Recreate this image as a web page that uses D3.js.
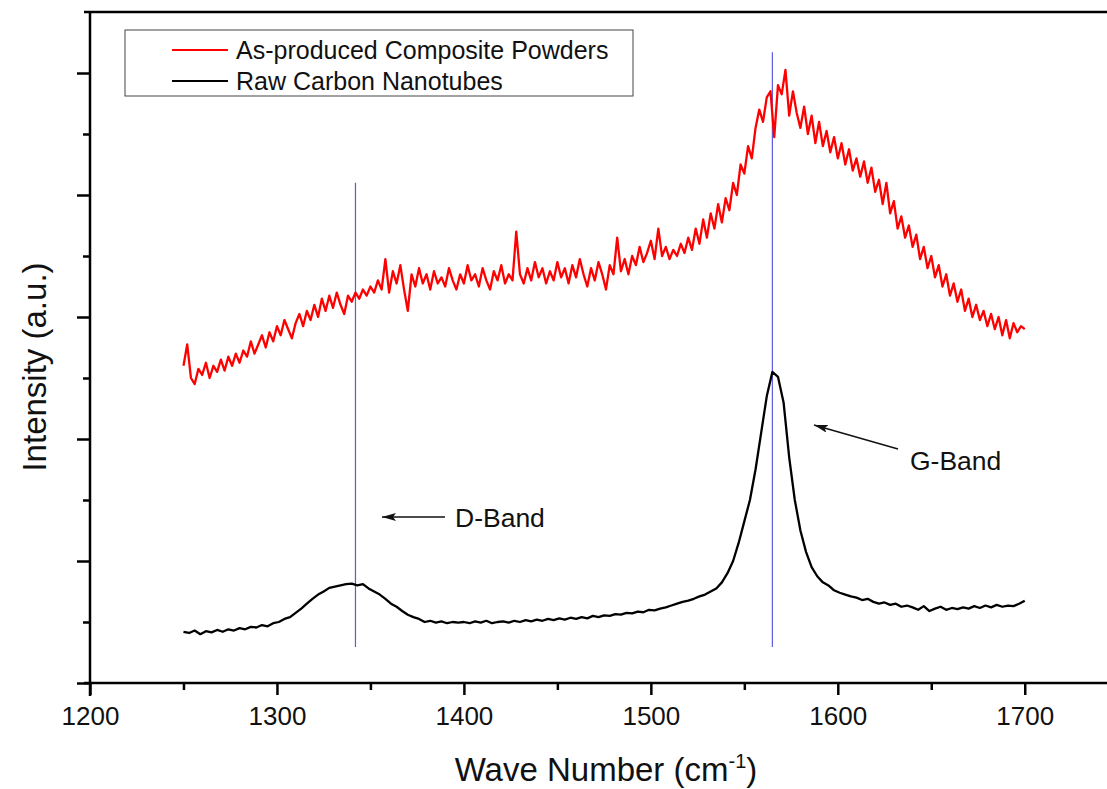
<!DOCTYPE html>
<html>
<head>
<meta charset="utf-8">
<script src="https://d3js.org/d3.v7.min.js"></script>
<style>
  body { margin: 0; background: #fff; }
  text { font-family: "Liberation Sans", Arial, sans-serif; fill: #111; }
</style>
</head>
<body>
<div id="chart"></div>
<script>
// wave number grids (cm-1)
var compositeWaves = d3.range(1250, 1701, 2);
var rawWaves = d3.range(1250, 1701, 3);

// As-produced Composite Powders (a.u.), one reading every 2 cm-1
var compositeValues = [
  5.2, 5.55, 5.0, 4.9, 5.15, 5.05, 5.25, 5.0, 5.2, 5.1,
  5.3, 5.12, 5.35, 5.2, 5.4, 5.25, 5.45, 5.35, 5.6, 5.4,
  5.55, 5.7, 5.5, 5.75, 5.6, 5.85, 5.7, 5.95, 5.8, 5.65,
  5.9, 6.05, 5.85, 6.1, 5.95, 6.2, 6.0, 6.3, 6.1, 6.35,
  6.15, 6.4, 6.2, 6.05, 6.35, 6.25, 6.4, 6.3, 6.45, 6.35,
  6.5, 6.4, 6.6, 6.45, 6.95, 6.4, 6.75, 6.55, 6.85, 6.45,
  6.1, 6.7, 6.5, 6.8, 6.55, 6.7, 6.45, 6.75, 6.55, 6.65,
  6.5, 6.8, 6.6, 6.45, 6.7, 6.55, 6.85, 6.6, 6.7, 6.5,
  6.8, 6.6, 6.45, 6.75, 6.6, 6.85, 6.55, 6.7, 6.6, 7.4,
  6.7, 6.55, 6.8, 6.6, 6.9, 6.65, 6.8, 6.55, 6.75, 6.6,
  6.9, 6.65, 6.8, 6.55, 6.85, 6.65, 6.95, 6.7, 6.5, 6.8,
  6.6, 6.9, 6.7, 6.45, 6.85, 6.7, 7.3, 6.75, 6.95, 6.7,
  7.0, 6.85, 7.15, 6.9, 7.05, 7.25, 6.95, 7.45, 7.0, 7.15,
  6.95, 7.1, 7.0, 7.2, 7.05, 7.3, 7.1, 7.45, 7.2, 7.6,
  7.3, 7.7, 7.45, 7.85, 7.55, 7.95, 7.75, 8.2, 8.0, 8.5,
  8.35, 8.8, 8.6, 9.1, 9.4, 9.2, 9.6, 9.7, 8.95, 9.8,
  9.65, 10.05, 9.3, 9.7, 9.35, 9.1, 9.45, 9.0, 9.3, 8.85,
  9.2, 8.8, 9.05, 8.7, 8.95, 8.6, 8.85, 8.5, 8.75, 8.4,
  8.6, 8.3, 8.55, 8.2, 8.45, 8.05, 8.25, 7.85, 8.2, 7.7,
  7.9, 7.45, 7.65, 7.3, 7.5, 7.15, 7.35, 6.95, 7.15, 6.8,
  7.0, 6.65, 6.85, 6.5, 6.7, 6.35, 6.55, 6.25, 6.45, 6.1,
  6.3, 6.0, 6.2, 5.95, 6.1, 5.85, 6.05, 5.8, 6.0, 5.7,
  5.95, 5.65, 5.9, 5.75, 5.85,
  5.8
];

// Raw Carbon Nanotubes (a.u.), one reading every 3 cm-1
var rawValues = [
  0.84, 0.82, 0.86, 0.8, 0.85, 0.83, 0.87, 0.84, 0.88, 0.86,
  0.9, 0.88, 0.92, 0.91, 0.95, 0.93, 0.98, 1.0, 1.05, 1.08,
  1.15, 1.22, 1.3, 1.38, 1.45, 1.5, 1.56, 1.58, 1.6, 1.62,
  1.63, 1.6, 1.62, 1.55, 1.5, 1.45, 1.38, 1.3, 1.25, 1.18,
  1.12, 1.08, 1.05, 1.0, 1.02, 0.99, 1.01, 0.98, 1.0, 0.99,
  1.0, 0.98, 1.01, 0.99, 1.02, 0.98, 1.0, 1.01, 0.99, 1.02,
  1.0, 1.03, 1.01, 1.04, 1.02, 1.05, 1.03, 1.06, 1.04, 1.07,
  1.05, 1.08, 1.06, 1.1, 1.08, 1.11, 1.1, 1.13, 1.12, 1.15,
  1.14, 1.17, 1.16, 1.2, 1.19, 1.22, 1.24, 1.27, 1.3, 1.33,
  1.35, 1.38, 1.42, 1.45, 1.5, 1.55, 1.65, 1.8, 2.0, 2.3,
  2.65, 3.0, 3.5, 4.1, 4.7, 5.1, 5.02, 4.6, 3.7, 3.0,
  2.5, 2.15, 1.9, 1.75, 1.65, 1.6, 1.52, 1.48, 1.45, 1.42,
  1.4, 1.36, 1.38, 1.33, 1.3, 1.32, 1.28, 1.3, 1.25, 1.27,
  1.24, 1.2, 1.26, 1.18, 1.22, 1.25, 1.2, 1.23, 1.21, 1.24,
  1.22, 1.26, 1.23, 1.27, 1.24, 1.28, 1.25, 1.27, 1.26, 1.3,
  1.35
];

var xTicks = [1200, 1300, 1400, 1500, 1600, 1700];
var xMinorTicks = [1250, 1350, 1450, 1550, 1650, 1750];
var yTicks = [0, 2, 4, 6, 8, 10];
var yMinorTicks = [1, 3, 5, 7, 9];

// band markers: position, line bottom, line top
var bandNames = ["D-Band", "G-Band"];
var bandPositions = [1342, 1565];
var bandBottoms = [0.59, 0.59];
var bandTops = [8.2, 10.34];

var seriesNames = ["As-produced Composite Powders", "Raw Carbon Nanotubes"];
var seriesColors = ["#ff0000", "#000000"];

var svgWidth = 1107;
var svgHeight = 789;
var margin = {top: 12, bottom: 106, left: 90, right: 0};

var chartWidth = svgWidth - margin.left - margin.right;
var chartHeight = svgHeight - margin.top - margin.bottom;

var svg = d3.select("#chart").append("svg")
    .attr("width", svgWidth)
    .attr("height", svgHeight);

var chartGroup = svg.append("g")
    .attr("transform", `translate(${margin.left},${margin.top})`);

var xLinearScale = d3.scaleLinear().domain([1200, 1744]).range([0, chartWidth]);
var yLinearScale = d3.scaleLinear().domain([0, 11]).range([chartHeight, 0]);

// band marker lines (drawn under the data)
chartGroup.selectAll(".band-line")
    .data(bandPositions)
    .enter()
    .append("line")
    .attr("class", "band-line")
    .attr("x1", d => xLinearScale(d))
    .attr("x2", d => xLinearScale(d))
    .attr("y1", (d, i) => yLinearScale(bandBottoms[i]))
    .attr("y2", (d, i) => yLinearScale(bandTops[i]))
    .attr("stroke", "#5a5ae0")
    .attr("stroke-width", 1.2);

var line = d3.line()
    .x(d => xLinearScale(d[0]))
    .y(d => yLinearScale(d[1]));

var allSeries = [[compositeWaves, compositeValues], [rawWaves, rawValues]];
allSeries.forEach(function(s, i) {
    chartGroup.append("path")
        .datum(s[0].map((w, j) => [w, s[1][j]]))
        .attr("fill", "none")
        .attr("stroke", seriesColors[i])
        .attr("stroke-width", 2.3)
        .attr("stroke-linejoin", "round")
        .attr("d", line);
});

// x axis: major + minor ticks
var xAxis = chartGroup.append("g")
    .attr("transform", `translate(0,${chartHeight})`)
    .call(d3.axisBottom(xLinearScale).tickValues(xTicks).tickSize(12).tickPadding(12).tickFormat(d3.format("d")));
chartGroup.append("g")
    .attr("transform", `translate(0,${chartHeight})`)
    .call(d3.axisBottom(xLinearScale).tickValues(xMinorTicks).tickSize(7).tickFormat(""))
    .select(".domain").remove();

// y axis: unlabeled ticks
var yAxis = chartGroup.append("g")
    .call(d3.axisLeft(yLinearScale).tickValues(yTicks).tickSize(13).tickFormat(""));
chartGroup.append("g")
    .call(d3.axisLeft(yLinearScale).tickValues(yMinorTicks).tickSize(7).tickFormat(""))
    .select(".domain").remove();

chartGroup.selectAll(".domain").attr("stroke", "#000").attr("stroke-width", 2.5);
chartGroup.selectAll(".tick line").attr("stroke", "#000").attr("stroke-width", 2.5);
xAxis.selectAll(".domain").attr("d", `M-6,0H${chartWidth}`);
yAxis.selectAll(".domain").attr("d", `M0,${chartHeight + 13}V0`);
xAxis.selectAll("text")
    .style("font-size", "26px")
    .attr("fill", "#111");

// top frame line
chartGroup.append("line")
    .attr("x1", -6).attr("x2", chartWidth)
    .attr("y1", 0).attr("y2", 0)
    .attr("stroke", "#000").attr("stroke-width", 2.5);

// axis titles
var xTitle = svg.append("text")
    .attr("x", 606)
    .attr("y", 781)
    .attr("text-anchor", "middle")
    .style("font-size", "33px");
xTitle.append("tspan").text("Wave Number (cm");
xTitle.append("tspan").attr("dy", -13).style("font-size", "20px").text("-1");
xTitle.append("tspan").attr("dy", 13).text(")");

svg.append("text")
    .attr("transform", "rotate(-90)")
    .attr("x", -367)
    .attr("y", 46)
    .attr("text-anchor", "middle")
    .style("font-size", "33px")
    .text("Intensity (a.u.)");

// legend
var legend = svg.append("g");
legend.append("rect")
    .attr("x", 125).attr("y", 30)
    .attr("width", 508).attr("height", 66)
    .attr("fill", "#fff")
    .attr("stroke", "#444")
    .attr("stroke-width", 1);
seriesNames.forEach(function(name, i) {
    var ly = 50 + i * 31;
    legend.append("line")
        .attr("x1", 172).attr("x2", 228)
        .attr("y1", ly).attr("y2", ly)
        .attr("stroke", seriesColors[i])
        .attr("stroke-width", 2);
    legend.append("text")
        .attr("x", 236).attr("y", ly + 9)
        .style("font-size", "25px")
        .text(name);
});

// band annotations with arrows
svg.append("defs").append("marker")
    .attr("id", "arrow")
    .attr("viewBox", "0 0 14 8")
    .attr("refX", 14).attr("refY", 4)
    .attr("markerWidth", 14).attr("markerHeight", 8)
    .attr("markerUnits", "userSpaceOnUse")
    .attr("orient", "auto")
    .append("path")
    .attr("d", "M0,0L14,4L0,8L3,4Z")
    .attr("fill", "#111");

var arrowStarts = [[445, 517], [898, 449]];
var arrowEnds = [[382, 517], [814, 425]];
var labelPositions = [[455, 527], [910, 470]];
bandNames.forEach(function(name, i) {
    svg.append("line")
        .attr("x1", arrowStarts[i][0]).attr("y1", arrowStarts[i][1])
        .attr("x2", arrowEnds[i][0]).attr("y2", arrowEnds[i][1])
        .attr("stroke", "#111")
        .attr("stroke-width", 1.5)
        .attr("marker-end", "url(#arrow)");
    svg.append("text")
        .attr("x", labelPositions[i][0])
        .attr("y", labelPositions[i][1])
        .style("font-size", "26.5px")
        .text(name);
});
</script>
</body>
</html>
